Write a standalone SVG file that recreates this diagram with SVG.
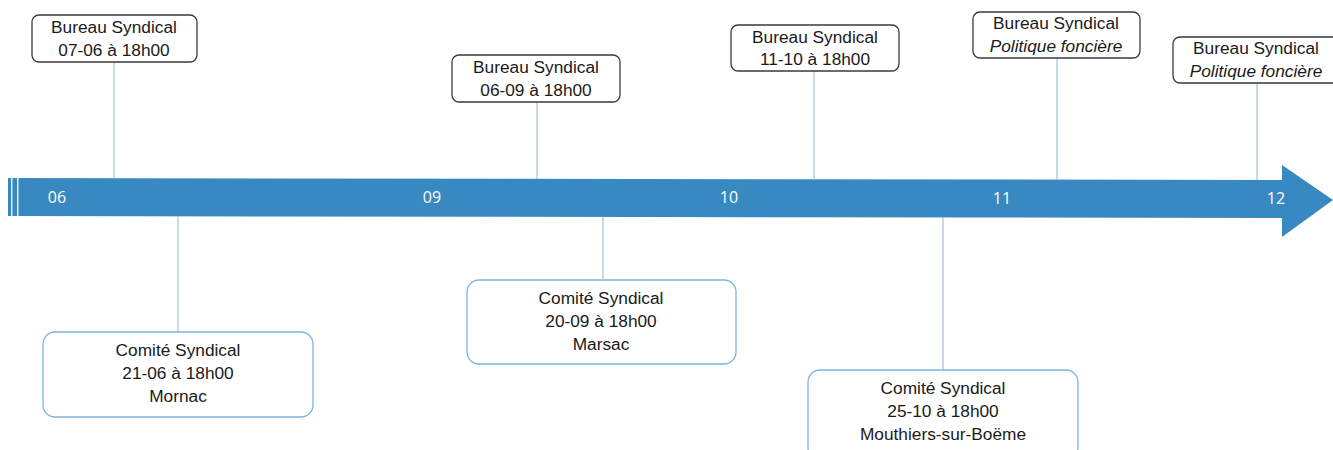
<svg xmlns="http://www.w3.org/2000/svg" width="1333" height="450" viewBox="0 0 1333 450">
<style>
.top{fill:#fff;stroke:#3a3a3a;stroke-width:1.3}
.bot{fill:#fff;stroke:#7fb4dc;stroke-width:1.3}
.t{font-family:"Liberation Sans",Arial,sans-serif;font-size:17.3px;fill:#1a1a1a;text-anchor:middle}
.it{font-style:italic}
.m{font-family:"Open Sans","Liberation Sans",sans-serif;font-size:16px;fill:#fff;text-anchor:middle}
.c{stroke:#8ab4d4;stroke-width:1;fill:none}
</style>
<rect width="1333" height="450" fill="#fff"/>
<g id="timeline">
<polygon points="8,178 1282,180 1282,165 1333,200 1282,237 1282,218 8,216" fill="#3888c2"/>
<rect x="11" y="178" width="1.5" height="38" fill="#fff" opacity="0.85"/>
<rect x="17" y="178" width="1.5" height="38" fill="#fff" opacity="0.85"/>
<text class="m" x="57" y="203">06</text>
<text class="m" x="432" y="203">09</text>
<text class="m" x="729" y="203">10</text>
<text class="m" x="1002" y="204">11</text>
<text class="m" x="1276" y="204">12</text>
</g>
<g id="connectors">
<line class="c" x1="114" y1="62" x2="114" y2="178"/>
<line class="c" x1="537" y1="102" x2="537" y2="179"/>
<line class="c" x1="814" y1="71" x2="814" y2="179"/>
<line class="c" x1="1057" y1="58" x2="1057" y2="180"/>
<line class="c" x1="1257" y1="83" x2="1257" y2="180"/>
<line class="c" x1="178" y1="216" x2="178" y2="332"/>
<line class="c" x1="603" y1="217" x2="603" y2="279"/>
<line class="c" x1="943" y1="217" x2="943" y2="370"/>
</g>
<g id="b1"><rect class="top" x="32" y="15" width="165" height="47" rx="7"/>
<text class="t" x="114" y="33">Bureau Syndical</text><text class="t" x="114" y="56">07-06 à 18h00</text></g>
<g id="b2"><rect class="top" x="452" y="55" width="168" height="47" rx="7"/>
<text class="t" x="536" y="73">Bureau Syndical</text><text class="t" x="536" y="96">06-09 à 18h00</text></g>
<g id="b3"><rect class="top" x="731" y="25" width="168" height="46" rx="7"/>
<text class="t" x="815" y="43">Bureau Syndical</text><text class="t" x="815" y="65">11-10 à 18h00</text></g>
<g id="b4"><rect class="top" x="973" y="12" width="167" height="46" rx="7"/>
<text class="t" x="1056" y="29">Bureau Syndical</text><text class="t it" x="1056" y="52">Politique foncière</text></g>
<g id="b5"><rect class="top" x="1173" y="37" width="170" height="46" rx="7"/>
<text class="t" x="1256" y="54">Bureau Syndical</text><text class="t it" x="1256" y="77">Politique foncière</text></g>
<g id="c1"><rect class="bot" x="43" y="332" width="270" height="85" rx="12"/>
<text class="t" x="178" y="356">Comité Syndical</text><text class="t" x="178" y="379">21-06 à 18h00</text><text class="t" x="178" y="402">Mornac</text></g>
<g id="c2"><rect class="bot" x="467" y="280" width="269" height="84" rx="12"/>
<text class="t" x="601" y="304">Comité Syndical</text><text class="t" x="601" y="327">20-09 à 18h00</text><text class="t" x="601" y="350">Marsac</text></g>
<g id="c3"><rect class="bot" x="808" y="370" width="270" height="90" rx="12"/>
<text class="t" x="943" y="394">Comité Syndical</text><text class="t" x="943" y="417">25-10 à 18h00</text><text class="t" x="943" y="440">Mouthiers-sur-Boëme</text></g>
</svg>
